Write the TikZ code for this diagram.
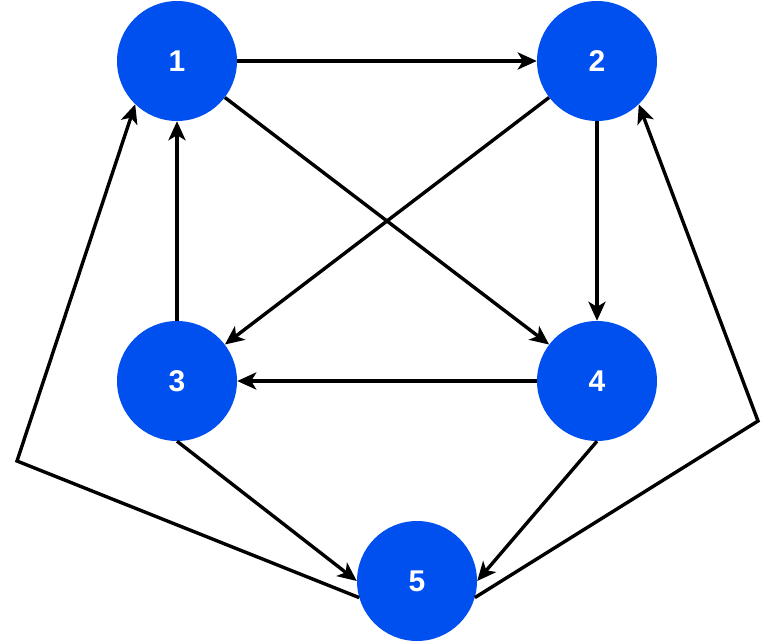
\documentclass[tikz,border=0pt]{standalone}
\usepackage{fontspec}
\setmainfont{Liberation Sans}
\usetikzlibrary{arrows.meta}
\definecolor{nodeblue}{HTML}{0050EF}
\begin{document}
\begin{tikzpicture}[x=1pt,y=-1pt,
  vertex/.style={circle,fill=nodeblue,draw=none,minimum size=120pt,inner sep=0pt,
    text=white,font=\fontsize{30}{32}\selectfont\bfseries},
  edge/.style={line width=3.4pt,-{Stealth[length=19pt,width=17pt,inset=5pt]}}
]
\useasboundingbox (0,0) rectangle (774,642);
\node[vertex] (n1) at (177,61) {1};
\node[vertex] (n2) at (597,61) {2};
\node[vertex] (n3) at (177,381) {3};
\node[vertex] (n4) at (597,381) {4};
\node[vertex] (n5) at (417,581) {5};
\coordinate (cl) at (17,461);
\coordinate (cr) at (758,421);
\draw[edge] (n1) -- (n2);
\draw[edge] (n1) -- (n4);
\draw[edge] (n2) -- (n3);
\draw[edge] (n2.south) -- (n4.north);
\draw[edge] (n3.north) -- (n1.south);
\draw[edge] (n4.west) -- (n3.east);
\draw[edge] (n3.south) -- (n5.west);
\draw[edge] (n4.south) -- (n5.east);
\draw[edge,line join=miter] (n5.196) -- (cl) -- (n1.226);
\draw[edge,line join=miter] (n5.344) -- (cr) -- (n2.314);
\end{tikzpicture}
\end{document}
